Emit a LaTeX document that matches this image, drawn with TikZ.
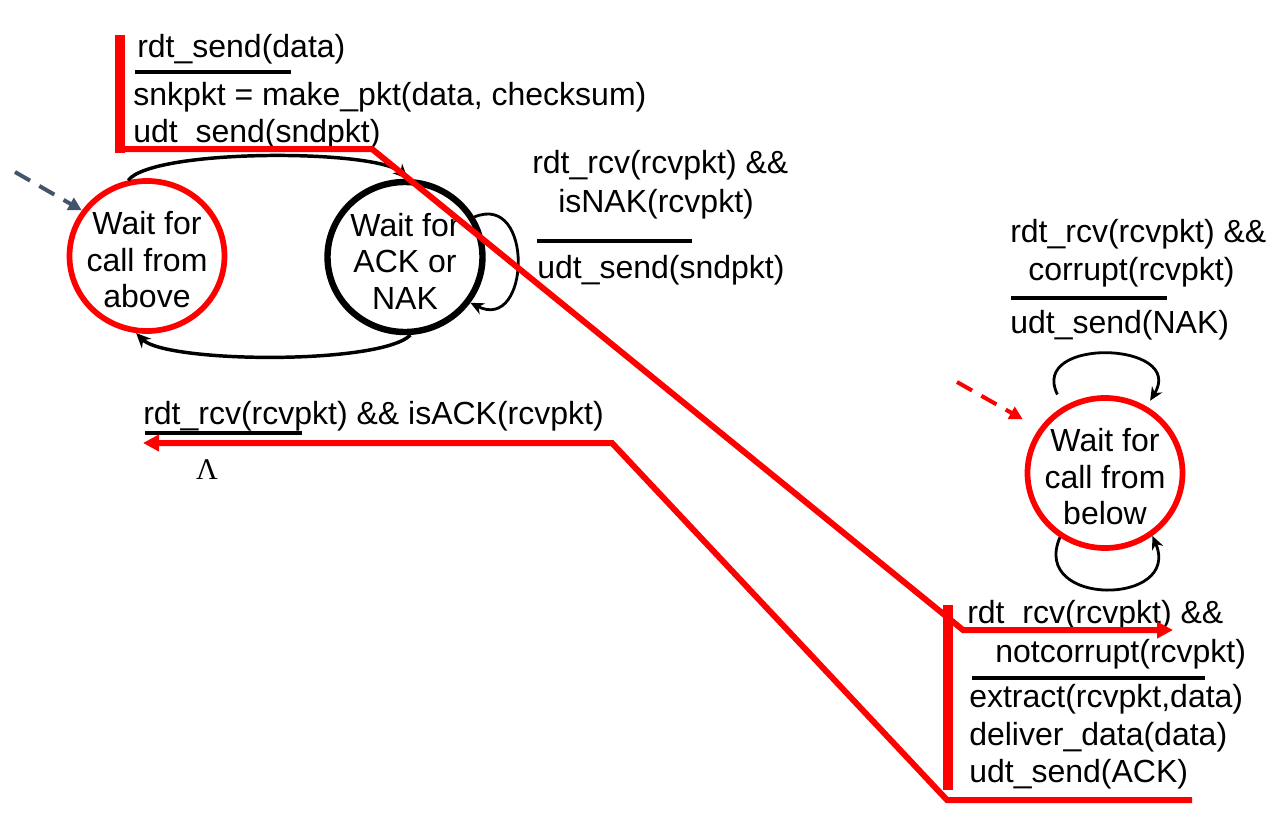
\documentclass[tikz,border=0pt]{standalone}
\usepackage{fontspec}
\setmainfont{Liberation Sans}
\newfontfamily\lamfont{Liberation Serif}
\usetikzlibrary{shapes.geometric,arrows.meta}
\definecolor{rdred}{HTML}{FF0000}
\definecolor{slate}{HTML}{44546A}
\begin{document}
\begin{tikzpicture}[x=0.75pt,y=-0.75pt,
  every node/.style={font=\fontsize{24pt}{27.4pt}\selectfont},
  state/.style={ellipse, minimum width=116.25pt, minimum height=112.5pt,
    inner sep=0pt},
  redstate/.style={state, draw=rdred, line width=4.3pt},
  blackstate/.style={state, draw=black, line width=4.8pt},
  statetext/.style={align=center, inner sep=0pt, yshift=-3pt},
  lbl/.style={anchor=base west, inner sep=0pt},
  rulebar/.style={line width=3.2pt},
  trans/.style={line width=2.6pt, -{Stealth[length=11pt,width=10pt]}},
  selfloop/.style={line width=2.1pt, -{Stealth[length=10pt,width=9pt]}},
  entry/.style={line width=3pt, dash pattern=on 13pt off 8pt,
    -{Triangle[length=10pt,width=10pt]}},
  trace/.style={draw=rdred, line width=4.5pt, line join=miter,
    -{Triangle[length=12pt,width=12pt]}},
  tracebar/.style={draw=rdred, line width=8pt}]
\useasboundingbox (0,0) rectangle (1276,817);

% sender states
\node[redstate]   (L) at (147,256) {};
\node[statetext]  (Lt) at (L.center) {Wait for\\call from\\above};
\node[blackstate] (M) at (405,257) {};
\node[statetext]  (Mt) at (M.center) {Wait for\\ACK or\\NAK};
% receiver state
\node[redstate]   (R) at (1105,473) {};
\node[statetext]  (Rt) at (R.center) {Wait for\\call from\\below};

% sender: rdt_send transition
\node[lbl] (sendA) at (137,58)  {rdt\_send(data)};
\draw[rulebar] (135,72) -- (291,72);
\node[lbl] (sendB) at (133,105) {snkpkt = make\_pkt(data, checksum)};
\node[lbl] (sendC) at (133,142) {udt\_send(sndpkt)};

% sender: NAK self transition
\node[lbl] (nakA) at (532,173) {rdt\_rcv(rcvpkt) \&\&};
\node[lbl] (nakB) at (558,212) {isNAK(rcvpkt)};
\draw[rulebar] (537,241) -- (692,241);
\node[lbl] (nakC) at (537,278) {udt\_send(sndpkt)};

% sender: ACK transition
\node[lbl] (ackA) at (143,424) {rdt\_rcv(rcvpkt) \&\& isACK(rcvpkt)};
\draw[rulebar] (145,433) -- (302,433);
\node[inner sep=0pt, font=\lamfont\fontsize{22.5pt}{26pt}\selectfont] (lam) at (207,470) {Λ};

% receiver: corrupt self transition
\node[lbl] (corA) at (1010,242) {rdt\_rcv(rcvpkt) \&\&};
\node[lbl] (corB) at (1028,280) {corrupt(rcvpkt)};
\draw[rulebar] (1011,298) -- (1167,298);
\node[lbl] (corC) at (1010,333) {udt\_send(NAK)};

% receiver: notcorrupt self transition
\node[lbl] (okA) at (967,623) {rdt\_rcv(rcvpkt) \&\&};
\node[lbl] (okB) at (995,662) {notcorrupt(rcvpkt)};
\draw[rulebar] (972,678) -- (1205,678);
\node[lbl] (okC) at (969,707) {extract(rcvpkt,data)};
\node[lbl] (okD) at (969,745) {deliver\_data(data)};
\node[lbl] (okE) at (969,782) {udt\_send(ACK)};

% transitions between sender states
\draw[trans] (L.104) .. controls +(25,-32) and +(-30,-30) .. (M.88);
\draw[trans] (M.-86) .. controls +(-30,30) and +(30,30) .. (L.-98);
\draw[selfloop] (M.30) .. controls +(60,-25) and +(60,30) .. (M.-35);

% receiver self loops
\draw[selfloop, shorten <=10pt, shorten >=5pt]
  (R.122) .. controls +(-35,-70) and +(40,-65) .. (R.58);
\draw[selfloop] (R.-125) .. controls +(-30,70) and +(30,70) .. (R.-53);

% initial-state markers
\coordinate (sStart) at (15,172);
\coordinate (rStart) at (957,382);
\draw[entry, draw=slate] (sStart) -- (L.145);
\draw[entry, draw=rdred, shorten >=14pt] (rStart) -- (R.146);

% packet path: data sent, then ACK returned
\coordinate (p1) at (120,149);
\coordinate (p2) at (372,149);
\coordinate (p3) at (963,630);
\coordinate (p4) at (1173,630);
\coordinate (q1) at (1192,800);
\coordinate (q2) at (947,800);
\coordinate (q3) at (612,443);
\coordinate (q4) at (143,443);
\draw[tracebar] (120,35) -- (120,153);
\draw[tracebar] (948,605) -- (948,790);
\draw[trace] (p1) -- (p2) -- (p3) -- (p4);
\draw[trace] (q1) -- (q2) -- (q3) -- (q4);
\end{tikzpicture}
\end{document}
